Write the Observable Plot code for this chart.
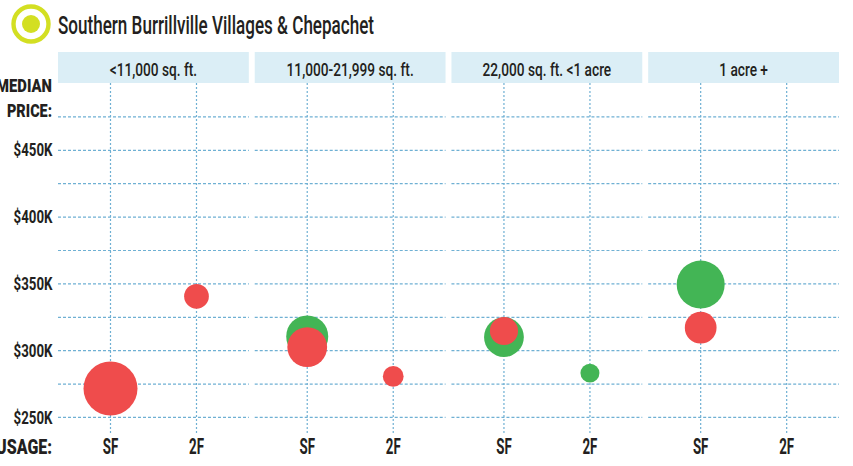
<!DOCTYPE html>
<html>
<head>
<meta charset="utf-8">
<script src="https://cdn.jsdelivr.net/npm/d3@7"></script>
<script src="https://cdn.jsdelivr.net/npm/@observablehq/plot@0.6"></script>
<style>
  html, body { margin: 0; padding: 0; background: #fff; }
  #chart svg { display: block; }
</style>
</head>
<body>
<div id="chart"></div>
<script>
// ---- Data ----
const lotSizes = ["<11,000 sq. ft.", "11,000-21,999 sq. ft.", "22,000 sq. ft. <1 acre", "1 acre +"];
const usages = ["SF", "2F"];
const yTicks = [250000, 300000, 350000, 400000, 450000];
const gridValues = [250000, 275000, 300000, 325000, 350000, 375000, 400000, 425000, 450000, 475000];

const greenLot   = ["11,000-21,999 sq. ft.", "22,000 sq. ft. <1 acre", "22,000 sq. ft. <1 acre", "1 acre +"];
const greenUsage = ["SF", "SF", "2F", "SF"];
const greenPrice = [310700, 310200, 283200, 349500];
const greenSize  = [49, 44, 10, 64];

const redLot   = ["<11,000 sq. ft.", "<11,000 sq. ft.", "11,000-21,999 sq. ft.", "11,000-21,999 sq. ft.", "22,000 sq. ft. <1 acre", "1 acre +"];
const redUsage = ["SF", "2F", "SF", "2F", "SF", "SF"];
const redPrice = [271700, 340700, 302700, 280700, 314700, 317200];
const redSize  = [81, 17, 44, 12, 22, 28];

const title = "Southern Burrillville Villages & Chepachet";

const toRows = (lots, us, ps, ss) => lots.map((l, i) => ({lot: l, usage: us[i], price: ps[i], size: ss[i]}));
const green = toRows(greenLot, greenUsage, greenPrice, greenSize);
const red = toRows(redLot, redUsage, redPrice, redSize);

const FONT = "Roboto, 'Liberation Sans', sans-serif";
const INK = "#231f20";
const GRID = "#6fb0d3";

const plot = Plot.plot({
  width: 853,
  height: 466,
  marginTop: 83,
  marginBottom: 33,
  marginLeft: 58,
  marginRight: 14,
  style: {fontFamily: FONT, color: INK, background: "#fff"},
  fx: {domain: lotSizes, paddingInner: 0.03, paddingOuter: 0, round: false, axis: null},
  x: {domain: usages, type: "point", padding: 0.6, label: null, tickSize: 0, tickPadding: 5},
  y: {domain: [238000, 500000], ticks: yTicks, tickFormat: d => "$" + d / 1000 + "K", label: null, tickSize: 0, tickPadding: 6},
  r: {domain: [0, 81], range: [0, 27]},
  marks: [
    Plot.gridY(gridValues, {stroke: GRID, strokeOpacity: 1, strokeWidth: 1.2, strokeDasharray: "3,2"}),
    Plot.gridX({stroke: GRID, strokeOpacity: 1, strokeWidth: 1.2, strokeDasharray: "2,2"}),
    Plot.dot(green, {fx: "lot", x: "usage", y: "price", r: "size", fill: "#43b555"}),
    Plot.dot(red, {fx: "lot", x: "usage", y: "price", r: "size", fill: "#ef4c4c"})
  ]
});

document.getElementById("chart").append(plot);

// ---- Condensed look: squeeze text horizontally around its anchor ----
const svg = d3.select(plot);
function squeeze(sel, s) {
  sel.each(function () {
    const t = this.getAttribute("transform") || "";
    this.setAttribute("transform", t + ` scale(${s},1)`);
  });
}
const yl = svg.selectAll("[aria-label='y-axis tick label'] text")
  .style("font-size", "19px").style("font-weight", "700").attr("fill", INK);
squeeze(yl, 0.7);
const xl = svg.selectAll("[aria-label='x-axis tick label'] text")
  .style("font-size", "21.5px").style("font-weight", "700").attr("fill", INK);
squeeze(xl, 0.62);

const fx = plot.scale("fx");
const deco = svg.append("g").attr("font-family", FONT);

function label(x, y, text, size, anchor, s, weight) {
  deco.append("text")
    .attr("transform", `translate(${x},${y}) scale(${s},1)`)
    .attr("text-anchor", anchor).attr("font-size", size).attr("font-weight", weight)
    .attr("fill", INK).text(text);
}

// title icon + title
deco.append("circle").attr("cx", 31).attr("cy", 24).attr("r", 17.5)
  .attr("fill", "none").attr("stroke", "#d3df22").attr("stroke-width", 4.4);
deco.append("circle").attr("cx", 31).attr("cy", 24).attr("r", 9).attr("fill", "#d3df22");
label(58, 33.5, title, 25.5, "start", 0.67, 500);

// facet headers
lotSizes.forEach(l => {
  const x0 = fx.apply(l);
  deco.insert("rect", ":first-child").attr("x", x0).attr("y", 52).attr("width", fx.bandwidth).attr("height", 31).attr("fill", "#dbeef6");
  label(x0 + fx.bandwidth / 2, 75.5, l, 18.5, "middle", 0.74, 500);
});

// side labels
label(52, 92, "MEDIAN", 18.5, "end", 0.8, 900);
label(52, 116.5, "PRICE:", 18.5, "end", 0.78, 900);
label(52, 453.5, "USAGE:", 21, "end", 0.76, 900);
</script>
</body>
</html>
